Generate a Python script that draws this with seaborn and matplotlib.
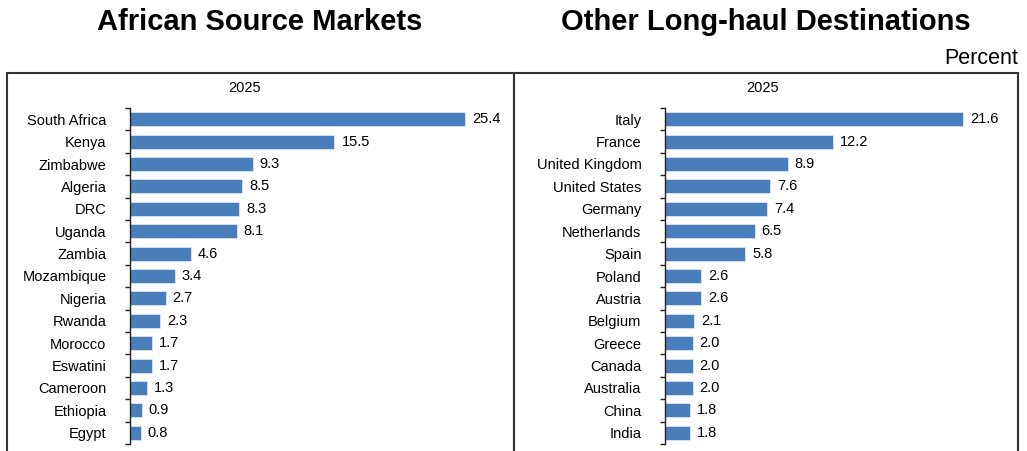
import numpy as np
import pandas as pd

import matplotlib
matplotlib.use("Agg")

import matplotlib.pyplot as plt
from matplotlib.patches import Rectangle
import seaborn as sns


sns.set_style("white")
plt.rcParams["font.family"] = ["Liberation Sans", "DejaVu Sans"]
plt.rcParams["text.color"] = "black"
plt.rcParams["ytick.color"] = "black"
plt.rcParams["ytick.labelcolor"] = "black"

BAR_COLOR = "#4a7ebb"

african_markets = ["South Africa", "Kenya", "Zimbabwe", "Algeria", "DRC", "Uganda", "Zambia",
                   "Mozambique", "Nigeria", "Rwanda", "Morocco", "Eswatini", "Cameroon",
                   "Ethiopia", "Egypt"]
african_share = [25.4, 15.5, 9.3, 8.5, 8.3, 8.1, 4.6, 3.4, 2.7, 2.3, 1.7, 1.7, 1.3, 0.9, 0.8]

longhaul_markets = ["Italy", "France", "United Kingdom", "United States", "Germany", "Netherlands",
                    "Spain", "Poland", "Austria", "Belgium", "Greece", "Canada", "Australia",
                    "China", "India"]
longhaul_share = [21.6, 12.2, 8.9, 7.6, 7.4, 6.5, 5.8, 2.6, 2.6, 2.1, 2.0, 2.0, 2.0, 1.8, 1.8]

year_label = "2025"


def draw_panel(ax, names, values, xmax):
    df = pd.DataFrame({"market": names, "share": values})
    sns.barplot(data=df, x="share", y="market", color=BAR_COLOR, width=0.63,
                edgecolor="#dce6f2", linewidth=0.6, ax=ax, saturation=1)
    ax.bar_label(ax.containers[0], fmt="%.1f", padding=5, fontsize=10.5, color="black")
    n = len(names)
    ax.set_xlim(0, xmax)
    ax.set_ylim(n - 0.5, -0.5)
    ax.set_xlabel("")
    ax.set_ylabel("")
    ax.set_xticks([])
    ax.set_yticks(np.arange(n), labels=names)
    ax.set_yticks(np.arange(-0.5, n), minor=True)
    ax.tick_params(axis="y", which="major", length=0, pad=17, labelsize=10.5)
    ax.tick_params(axis="y", which="minor", length=3.5, width=1, direction="out",
                   color="#222222", left=True)
    for side in ["top", "right", "bottom"]:
        ax.spines[side].set_visible(False)
    ax.spines["left"].set_color("#222222")
    ax.spines["left"].set_linewidth(1)
    ax.patch.set_alpha(0)


fig = plt.figure(figsize=(10.27, 4.51), dpi=100)
W, H = 1027, 451

# panel frames
for x0, x1 in [(7, 514), (514, 1018)]:
    fig.patches.append(Rectangle((x0 / W, -0.05), (x1 - x0) / W, (H - 73) / H + 0.05,
                                 transform=fig.transFigure, fill=False,
                                 edgecolor="#333333", linewidth=1.5))

ax_left = fig.add_axes([130 / W, 7 / H, 360 / W, 336 / H])
ax_right = fig.add_axes([665 / W, 7 / H, 335 / W, 336 / H])

draw_panel(ax_left, african_markets, african_share, 360 / 13.19)
draw_panel(ax_right, longhaul_markets, longhaul_share, 335 / 13.8)

fig.text(260 / W, 1 - 22 / H, "African Source Markets", ha="center", va="center",
         fontsize=21, fontweight="bold")
fig.text(766 / W, 1 - 22 / H, "Other Long-haul Destinations", ha="center", va="center",
         fontsize=21, fontweight="bold")
fig.text(1018 / W, 1 - 58 / H, "Percent", ha="right", va="center", fontsize=15.5)
fig.text(245 / W, 1 - 88 / H, year_label, ha="center", va="center", fontsize=10.5)
fig.text(763 / W, 1 - 88 / H, year_label, ha="center", va="center", fontsize=10.5)

fig.savefig("out.png", dpi=100)
plt.close(fig)
